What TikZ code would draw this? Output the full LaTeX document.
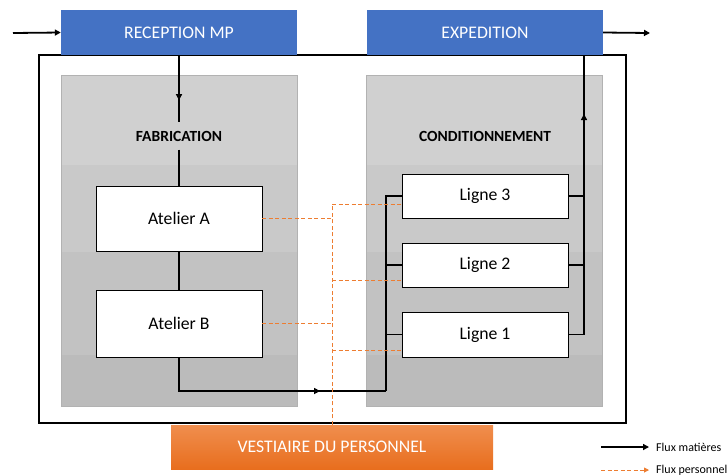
\documentclass[tikz,border=0pt]{standalone}
\usepackage{fontspec}
\setmainfont{Carlito}
\usepackage{xcolor}
\usetikzlibrary{arrows.meta,decorations.markings}

\definecolor{bleuzone}{HTML}{4472C4}
\definecolor{orangeperso}{HTML}{ED7D31}
\definecolor{orangehaut}{HTML}{F08E4E}
\definecolor{orangebas}{HTML}{E86E1E}
\definecolor{bande1}{HTML}{D0D0D0}
\definecolor{bande2}{HTML}{C9C9C9}
\definecolor{bande3}{HTML}{C2C2C2}
\definecolor{bande4}{HTML}{BBBBBB}
\definecolor{bordgris}{HTML}{B2B2B2}

\tikzset{
  zone/.style={fill=bleuzone, text=white, minimum width=236pt, minimum height=45pt,
    inner sep=0pt, font=\fontsize{17.7}{20}\selectfont},
  poste/.style={draw=black, line width=0.8pt, fill=white, minimum width=166pt,
    inner sep=0pt, font=\fontsize{17.7}{20}\selectfont},
  titre/.style={font=\bfseries\fontsize{15.5}{18}\selectfont, minimum height=27pt, inner sep=0pt},
  flux/.style={line width=1.8pt, -{Triangle[length=6pt,width=6pt]}},
  fluxtrait/.style={line width=1.8pt},
  perso/.style={draw=orangeperso, line width=0.9pt, dash pattern=on 4pt off 2.5pt},
  midarrow/.style={postaction={decorate}, decoration={markings,
    mark=at position #1 with {\arrow{Triangle[length=6pt,width=6pt]}}}},
  legende/.style={font=\fontsize{12}{14}\selectfont, inner sep=0pt, inner xsep=7pt, anchor=west}
}

\begin{document}
\begin{tikzpicture}[x=1pt,y=-1pt]
    \useasboundingbox (0,0) rectangle (727,475);

    % zones grises
    \foreach \xa/\xb in {61/297, 366/602} {
        \fill[bande1] (\xa,75) rectangle (\xb,165);
        \fill[bande2] (\xa,165) rectangle (\xb,252);
        \fill[bande3] (\xa,252) rectangle (\xb,355);
        \fill[bande4] (\xa,355) rectangle (\xb,406);
        \draw[bordgris, line width=0.8pt] (\xa,75) rectangle (\xb,406);
    }

    % cadre usine
    \draw[line width=2.2pt] (39,55) rectangle (626,423);

    % zones
    \node[zone] (reception) at (179,32.5) {RECEPTION MP};
    \node[zone] (expedition) at (485,32.5) {EXPEDITION};
    \node[zone, minimum width=322pt, minimum height=44pt, fill=none,
          top color=orangehaut, bottom color=orangebas] (vestiaire) at (332,447) {VESTIAIRE DU PERSONNEL};

    \node[titre] (fab) at (179,136) {FABRICATION};
    \node[titre] (cond) at (485,136) {CONDITIONNEMENT};

    % postes
    \node[poste, minimum height=65pt] (atelierA) at (179,218.5) {Atelier A};
    \node[poste, minimum height=67pt] (atelierB) at (179,323.5) {Atelier B};
    \node[poste, minimum height=44pt] (ligne3) at (485,196) {Ligne 3};
    \node[poste, minimum height=44pt] (ligne2) at (485,265) {Ligne 2};
    \node[poste, minimum height=45pt] (ligne1) at (485,334.5) {Ligne 1};

    % flux matieres
    \coordinate (entree) at (13,33);
    \coordinate (sortie) at (650,33);
    \coordinate (jonction) at (386,391);
    \coordinate (collecteur) at (584,55);

    \draw[flux] (entree) -- (reception.west);
    \draw[flux] (expedition.east) -- (sortie);
    \draw[fluxtrait, midarrow=0.67] (reception.south) -- (fab.north);
    \draw[fluxtrait] (fab.south) -- (atelierA.north);
    \draw[fluxtrait] (atelierA.south) -- (atelierB.north);
    \draw[fluxtrait, midarrow=0.726] (atelierB.south) |- (jonction);
    \draw[fluxtrait] (jonction) |- (ligne3.west);
    \draw[fluxtrait] (jonction) |- (ligne2.west);
    \draw[fluxtrait] (jonction) |- (ligne1.west);
    \draw[fluxtrait, midarrow=0.8] (ligne1.east) -| (collecteur);
    \draw[fluxtrait] (ligne2.east) -- (ligne2.east -| collecteur);
    \draw[fluxtrait] (ligne3.east) -- (ligne3.east -| collecteur);

    % flux personnel
    \draw[perso] (vestiaire.north) |- ([yshift=-8pt]ligne3.west);
    \draw[perso] (vestiaire.north |- ligne2.west) ++(0,15) -- ([yshift=-15pt]ligne2.west);
    \draw[perso] (vestiaire.north |- ligne1.west) ++(0,15.5) -- ([yshift=-15.5pt]ligne1.west);
    \draw[perso] (atelierA.east) -- (atelierA.east -| vestiaire.north);
    \draw[perso] (atelierB.east) -- (atelierB.east -| vestiaire.north);

    % legende
    \coordinate (legm) at (601,447);
    \coordinate (legp) at (601,470);
    \node[legende] (txtmat) at (649,447) {Flux matières};
    \node[legende] (txtperso) at (649,470) {Flux personnel};
    \draw[flux] (legm) -- (txtmat.west);
    \draw[perso, -{Triangle[length=5pt,width=5pt]}, orangeperso] (legp) -- (txtperso.west);
\end{tikzpicture}
\end{document}
